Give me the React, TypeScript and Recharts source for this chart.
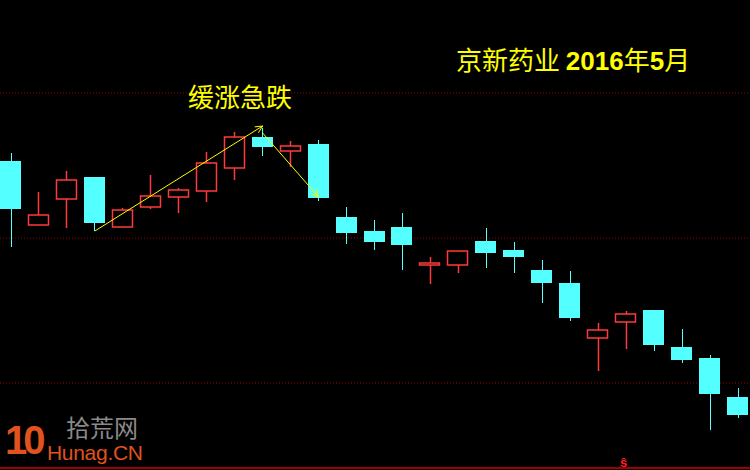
import React from 'react';
import { Bar, CartesianGrid, ComposedChart, ReferenceLine, XAxis, YAxis } from 'recharts';

// trading days (x axis is not drawn in the original)
const days = [
  'D1', 'D2', 'D3', 'D4', 'D5', 'D6', 'D7', 'D8', 'D9', 'D10', 'D11', 'D12', 'D13', 'D14',
  'D15', 'D16', 'D17', 'D18', 'D19', 'D20', 'D21', 'D22', 'D23', 'D24', 'D25', 'D26', 'D27',
];
const opens = [
  13.09, 12.45, 12.71, 12.93, 12.43, 12.63, 12.73, 12.79, 13.02, 13.33, 13.19, 13.26, 12.53, 12.39,
  12.43, 12.05, 12.05, 12.29, 12.2, 12.0, 11.87, 11.32, 11.48, 11.6, 11.23, 11.12, 10.73,
];
const closes = [
  12.61, 12.55, 12.9, 12.47, 12.6, 12.74, 12.8, 13.07, 13.33, 13.23, 13.24, 12.72, 12.37, 12.28,
  12.25, 12.07, 12.19, 12.17, 12.13, 11.87, 11.52, 11.4, 11.56, 11.25, 11.1, 10.76, 10.55,
];
const highs = [
  13.17, 12.78, 12.99, 12.93, 12.62, 12.95, 12.82, 13.18, 13.38, 13.42, 13.29, 13.3, 12.63, 12.5,
  12.57, 12.13, 12.19, 12.42, 12.28, 12.1, 11.99, 11.47, 11.59, 11.6, 11.41, 11.15, 10.82,
];
const lows = [
  12.23, 12.45, 12.42, 12.39, 12.43, 12.61, 12.57, 12.68, 12.9, 13.14, 13.03, 12.69, 12.26, 12.2,
  12.0, 11.86, 11.97, 12.02, 11.97, 11.67, 11.49, 10.99, 11.21, 11.19, 11.07, 10.4, 10.52,
];

// dotted price guides
const gridPrices = [13.77, 12.32, 10.87];
const priceDomain = [10.0, 14.7];

// "缓涨急跌" arrows: [day, price] -> [day, price]
const arrowUp = [['D4', 12.39], ['D10', 13.44]];
const arrowDown = [['D10', 13.37], ['D12', 12.73]];

const data = days.map((d, i) => ({
  day: d,
  open: opens[i],
  close: closes[i],
  high: highs[i],
  low: lows[i],
}));

const UP = '#ff3a3a';
const DOWN = '#54ffff';

const Candle = (props: any) => {
  const { x, y, width, height, payload } = props;
  const { open, close, high, low } = payload;
  const top = Math.min(y, y + height);
  const h = Math.abs(height);
  const ratio = h / (high - low || 1);
  const cx = Math.round(x + width / 2) + 0.5;
  const bx = Math.round(x);
  const bodyTop = top + (high - Math.max(open, close)) * ratio;
  const bodyBot = top + (high - Math.min(open, close)) * ratio;
  if (close >= open) {
    const bh = Math.max(bodyBot - bodyTop, 1.5);
    return (
      <g>
        <line x1={cx} x2={cx} y1={top} y2={bodyTop} stroke={UP} strokeWidth={1.5} />
        <line x1={cx} x2={cx} y1={bodyTop + bh} y2={top + h} stroke={UP} strokeWidth={1.5} />
        <rect x={bx + 0.5} y={bodyTop} width={width - 1} height={bh} fill="#000" stroke={UP} strokeWidth={1.5} />
      </g>
    );
  }
  return (
    <g>
      <line x1={cx} x2={cx} y1={top} y2={top + h} stroke={DOWN} strokeWidth={1} />
      <rect x={bx} y={bodyTop} width={width} height={Math.max(bodyBot - bodyTop, 1)} fill={DOWN} />
    </g>
  );
};

const Arrow = (props: any) => {
  const { x1, y1, x2, y2 } = props;
  const a = Math.atan2(y2 - y1, x2 - x1);
  const len = 8;
  const p1 = [x2 - len * Math.cos(a - 0.45), y2 - len * Math.sin(a - 0.45)];
  const p2 = [x2 - len * Math.cos(a + 0.45), y2 - len * Math.sin(a + 0.45)];
  return (
    <g stroke="#ffff00" strokeWidth={1} fill="none">
      <line x1={x1} y1={y1} x2={x2} y2={y2} />
      <polyline points={`${p1[0]},${p1[1]} ${x2},${y2} ${p2[0]},${p2[1]}`} />
    </g>
  );
};

const textBase: React.CSSProperties = {
  position: 'absolute',
  whiteSpace: 'nowrap',
  fontFamily: '"Noto Sans CJK SC", sans-serif',
  lineHeight: 1,
};
const latin = 'Arial, "Liberation Sans", sans-serif';

export default function App() {
  return (
    <div
      style={{
        position: 'fixed',
        left: 0,
        top: 0,
        width: 750,
        height: 470,
        background: '#000',
        overflow: 'hidden',
      }}
    >
      <div style={{ position: 'absolute', left: -3, top: 0 }}>
        <ComposedChart width={755} height={470} data={data} margin={{ top: 0, right: 0, bottom: 0, left: 0 }}>
          <XAxis dataKey="day" hide />
          <YAxis type="number" domain={priceDomain} hide allowDataOverflow />
          <CartesianGrid
            vertical={false}
            horizontalValues={gridPrices}
            stroke="#9a0000"
            strokeDasharray="1 2"
          />
          <ReferenceLine y={10.02} stroke="#d00000" strokeWidth={1.5} />
          <Bar
            dataKey={(d: any) => [d.low, d.high]}
            barSize={21}
            shape={<Candle />}
            isAnimationActive={false}
          />
          <ReferenceLine
            segment={arrowUp.map(([x, y]) => ({ x, y }))}
            shape={(p: any) => <Arrow {...p} />}
          />
          <ReferenceLine
            segment={arrowDown.map(([x, y]) => ({ x, y }))}
            shape={(p: any) => <Arrow {...p} />}
          />
        </ComposedChart>
      </div>

      <div style={{ ...textBase, left: 456, top: 46, fontSize: 26, color: '#ffff00' }}>
        京新药业 <span style={{ fontFamily: latin, fontWeight: 700 }}>2016</span>年
        <span style={{ fontFamily: latin, fontWeight: 700 }}>5</span>月
      </div>
      <div style={{ ...textBase, left: 188, top: 83, fontSize: 26, color: '#ffff00' }}>缓涨急跌</div>

      <div style={{ ...textBase, left: 620, top: 455, fontSize: 13, fontWeight: 700, color: '#ff2020' }}>ŝ</div>

      <div style={{ ...textBase, left: 5, top: 420, fontSize: 40, fontWeight: 700, color: '#e0521e', fontFamily: latin, letterSpacing: -4 }}>10</div>
      <div style={{ ...textBase, left: 66, top: 415, fontSize: 24, lineHeight: '24px', color: '#8a8a8a' }}>拾荒网</div>
      <div style={{ ...textBase, left: 47, top: 442, fontSize: 21, color: '#e0521e', fontFamily: latin, letterSpacing: -0.3 }}>Hunag.CN</div>
    </div>
  );
}
